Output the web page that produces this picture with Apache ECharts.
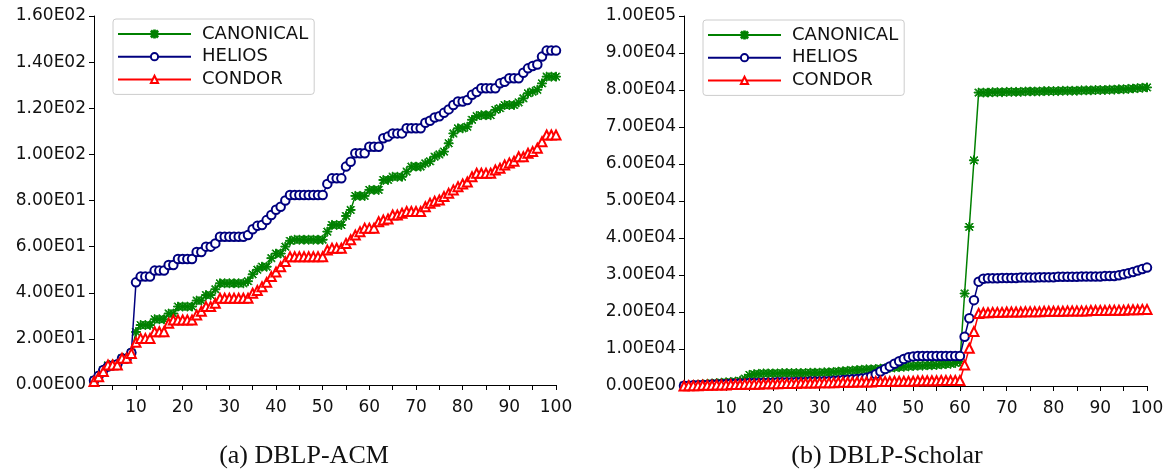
<!DOCTYPE html>
<html>
<head>
<meta charset="utf-8">
<script src="https://cdn.jsdelivr.net/npm/echarts@6/dist/echarts.min.js"></script>
<style>
html,body{margin:0;padding:0;background:#fff;}
#chart{width:1168px;height:470px;}
</style>
</head>
<body>
<div id="chart"></div>
<script>
// ---------- DATA ----------
const seriesNames = ['CANONICAL', 'HELIOS', 'CONDOR'];
const captions = ['(a) DBLP-ACM', '(b) DBLP-Scholar'];

const xTickValues = [5,10,15,20,25,30,35,40,45,50,55,60,65,70,75,80,85,90,95,100];
const xLabelValues = [10,20,30,40,50,60,70,80,90,100];

const yTickLabelsA = ['0.00E00','2.00E01','4.00E01','6.00E01','8.00E01','1.00E02','1.20E02','1.40E02','1.60E02'];
const yTickLabelsB = ['0.00E00','1.00E04','2.00E04','3.00E04','4.00E04','5.00E04','6.00E04','7.00E04','8.00E04','9.00E04','1.00E05'];

// (a) DBLP-ACM, x = 1..100
const acmCanonical = [
  2,4,6.5,8.5,9,9,11.5,12,14,23,
  26,26,26,28.5,28.5,28.5,31,31,34,34,
  34,34,36.6,36.6,39,39,41.5,44.1,44.1,44.1,
  44.1,44.1,44.1,45,48,50,51.3,51.3,55,57,
  57,60,62.5,63,63,63,63,63,63,63,
  66.5,69.4,69.4,69.4,73.3,75.9,82,82,82,84.6,
  84.6,84.6,88.9,88.9,90.3,90.3,90.3,92.5,94.7,94.7,
  94.7,96.1,97,99,100,101.2,104.8,109.1,111.3,111.3,
  112,115,116.6,117,117,117,119.3,120,121.4,121.4,
  121.4,122.5,124.3,126.5,127.2,128,130.8,133.7,133.7,133.7
];
const acmHelios = [
  2,4,6.5,8,8.5,9,11.5,11.5,14,44.5,
  47,47,47,49.6,49.6,49.6,52,52,54.6,54.6,
  54.6,54.6,57.7,57.7,60,60,61.4,64.3,64.3,64.3,
  64.3,64.3,64.3,65,67.5,69,69.4,71.5,73.7,76,
  77.3,80,82.4,82.4,82.4,82.4,82.4,82.4,82.4,82.4,
  87.2,89.6,89.6,89.6,94.7,96.8,100.5,100.5,100.5,103.3,
  103.3,103.3,107,107.7,109.1,109.1,109.1,111.3,111.3,111.3,
  111.3,113.7,114.6,116,116.5,118,119.5,121.4,122.9,122.9,
  123.6,125.8,127,128.7,128.7,128.7,128.7,130.8,131.5,133,
  133,133,135.4,137.3,138.3,139,142.4,145,145,145
];
const acmCondor = [
  1.5,3.6,5.8,8.7,8.7,8.7,11.6,11.6,13.7,18.5,
  20.2,20.2,20.2,23.1,23.1,23.1,26.8,28.2,28.2,28.2,
  28.2,28.2,30.4,32,34,34,35.4,37.6,37.6,37.6,
  37.6,37.6,37.6,37.6,39.8,41,42.6,44.5,47,49,
  51.3,53.5,55.6,55.6,55.6,55.6,55.6,55.6,55.6,55.6,
  58.5,59.3,59.3,59.3,61.4,63,65,66.5,68,68,
  68,70.8,71.5,72,73.7,73.7,74.5,75.2,75.2,75.2,
  75.2,77.3,78.8,79.7,80.2,81.7,83.1,84.6,86,87.2,
  88,90.3,91.8,91.8,91.8,91.8,93.2,94,95.4,96.3,
  97,99,99,100.5,101.2,102.7,105.5,108.4,108.4,108.4
];

// (b) DBLP-Scholar, x = 1..100, values in thousands
const scholarCanonicalK = [
  0.1,0.2,0.3,0.4,0.5,0.6,0.7,0.8,0.9,1.0,
  1.1,1.2,1.4,2.0,3.0,3.2,3.3,3.4,3.4,3.4,
  3.4,3.5,3.5,3.5,3.5,3.5,3.5,3.6,3.6,3.6,
  3.7,3.7,3.8,3.9,4.0,4.1,4.2,4.3,4.4,4.5,
  4.5,4.6,4.7,4.8,4.9,5.0,5.1,5.2,5.3,5.4,
  5.5,5.5,5.6,5.6,5.7,5.8,5.9,6.0,6.2,6.6,
  25,43,61,79.3,79.3,79.3,79.4,79.4,79.4,79.5,
  79.5,79.5,79.5,79.6,79.6,79.6,79.6,79.7,79.7,79.7,
  79.7,79.8,79.8,79.8,79.8,79.9,79.9,79.9,80.0,80.0,
  80.0,80.1,80.1,80.2,80.2,80.3,80.4,80.5,80.6,80.7
];
const scholarHeliosK = [
  0.1,0.1,0.2,0.2,0.3,0.3,0.4,0.4,0.5,0.5,
  0.6,0.6,0.7,0.7,0.8,0.8,0.8,0.9,0.9,0.9,
  1.0,1.0,1.0,1.0,1.1,1.1,1.1,1.2,1.2,1.2,
  1.3,1.3,1.4,1.5,1.6,1.7,1.8,1.9,2.0,2.2,
  2.6,3.2,3.9,4.6,5.3,6.0,6.7,7.3,7.8,8.0,
  8.1,8.1,8.1,8.1,8.1,8.1,8.1,8.1,8.1,8.1,
  13.3,18.3,23.2,28.2,29.0,29.1,29.1,29.1,29.2,29.2,
  29.2,29.2,29.3,29.3,29.3,29.3,29.4,29.4,29.4,29.4,
  29.5,29.5,29.5,29.5,29.5,29.6,29.6,29.6,29.6,29.6,
  29.7,29.7,29.7,29.9,30.2,30.5,30.8,31.2,31.6,32.0
];
const scholarCondorK = [
  0.0,0.1,0.1,0.1,0.2,0.2,0.2,0.3,0.3,0.3,
  0.4,0.4,0.4,0.5,0.5,0.5,0.5,0.6,0.6,0.6,
  0.6,0.7,0.7,0.7,0.7,0.8,0.8,0.8,0.8,0.9,
  0.9,0.9,0.9,1.0,1.0,1.0,1.0,1.1,1.1,1.1,
  1.1,1.2,1.2,1.2,1.2,1.3,1.3,1.3,1.3,1.3,
  1.4,1.4,1.4,1.4,1.4,1.5,1.5,1.5,1.5,1.5,
  5.7,10.2,14.7,19.6,19.8,19.8,19.9,19.9,19.9,20.0,
  20.0,20.0,20.0,20.1,20.1,20.1,20.1,20.2,20.2,20.2,
  20.2,20.2,20.3,20.3,20.3,20.3,20.3,20.4,20.4,20.4,
  20.4,20.5,20.5,20.5,20.5,20.6,20.6,20.6,20.7,20.7
];

// ---------- CHART ----------
const colors = ['#008000', '#00007f', '#ff0000'];
const asterisk = 'path://M9 0L11 0L11 20L9 20ZM0 9L20 9L20 11L0 11ZM1.4 2.8L2.8 1.4L18.6 17.2L17.2 18.6ZM17.2 1.4L18.6 2.8L2.8 18.6L1.4 17.2Z';
const symbols = [asterisk, 'emptyCircle', 'emptyTriangle'];
const symbolSizes = [9, 8.5, 9];

function pairs(arr, scale) {
  return arr.map((v, i) => [i + 1, v * scale]);
}

const chart = echarts.init(document.getElementById('chart'), null, {renderer: 'canvas'});

const tickFont = {fontFamily: 'DejaVu Sans', fontSize: 17, color: '#111'};

function xAxis(gridIndex) {
  return {
    type: 'value', gridIndex, min: 1, max: 100,
    splitLine: {show: false},
    axisLine: {show: true, onZero: false, lineStyle: {color: '#000', width: 1}},
    axisTick: {show: true, inside: false, length: 5, customValues: xTickValues, lineStyle: {color: '#000'}},
    axisLabel: Object.assign({margin: 14, customValues: xLabelValues}, tickFont)
  };
}
function yAxis(gridIndex, max, interval, labels) {
  return {
    type: 'value', gridIndex, min: 0, max, interval,
    splitLine: {show: false},
    axisLine: {show: true, lineStyle: {color: '#000', width: 1}},
    axisTick: {show: true, inside: false, length: 5, lineStyle: {color: '#000'}},
    axisLabel: Object.assign({margin: 8, formatter: v => labels[Math.round(v / interval)]}, tickFont)
  };
}

function makeSeries(name, idx, data, xi) {
  return {
    name, type: 'line', xAxisIndex: xi, yAxisIndex: xi, data,
    symbol: symbols[idx], symbolSize: symbolSizes[idx], showAllSymbol: true,
    lineStyle: {color: colors[idx], width: 1.5},
    itemStyle: {color: colors[idx], borderColor: colors[idx], borderWidth: 1},
    emphasis: {disabled: true},
    z: 2 + idx
  };
}

function legend(left, top) {
  return {
    left, top, orient: 'vertical', data: seriesNames,
    itemWidth: 73, itemHeight: 9, itemGap: 2.7,
    backgroundColor: '#fff', borderColor: '#cccccc', borderWidth: 1, borderRadius: 3,
    padding: [5, 6, 5, 4],
    selectedMode: false,
    textStyle: {fontFamily: 'DejaVu Sans', fontSize: 18, color: '#111', lineHeight: 20, padding: [0, 0, 0, 6]}
  };
}

const option = {
  animation: false,
  backgroundColor: '#fff',
  grid: [
    {left: 94, top: 16, width: 462, height: 369},
    {left: 684, top: 16, width: 463, height: 370}
  ],
  xAxis: [xAxis(0), xAxis(1)],
  yAxis: [yAxis(0, 160, 20, yTickLabelsA), yAxis(1, 100000, 10000, yTickLabelsB)],
  legend: [legend(113, 19), legend(703, 20)],
  title: [
    {text: captions[0], left: 299, top: 438, textAlign: 'center',
     textStyle: {fontFamily: 'Liberation Serif', fontSize: 26, fontWeight: 'normal', color: '#111'}},
    {text: captions[1], left: 882, top: 438, textAlign: 'center',
     textStyle: {fontFamily: 'Liberation Serif', fontSize: 26, fontWeight: 'normal', color: '#111'}}
  ],
  series: [
    makeSeries(seriesNames[0], 0, pairs(acmCanonical, 1), 0),
    makeSeries(seriesNames[1], 1, pairs(acmHelios, 1), 0),
    makeSeries(seriesNames[2], 2, pairs(acmCondor, 1), 0),
    makeSeries(seriesNames[0], 0, pairs(scholarCanonicalK, 1000), 1),
    makeSeries(seriesNames[1], 1, pairs(scholarHeliosK, 1000), 1),
    makeSeries(seriesNames[2], 2, pairs(scholarCondorK, 1000), 1)
  ]
};
chart.setOption(option);
</script>
</body>
</html>
